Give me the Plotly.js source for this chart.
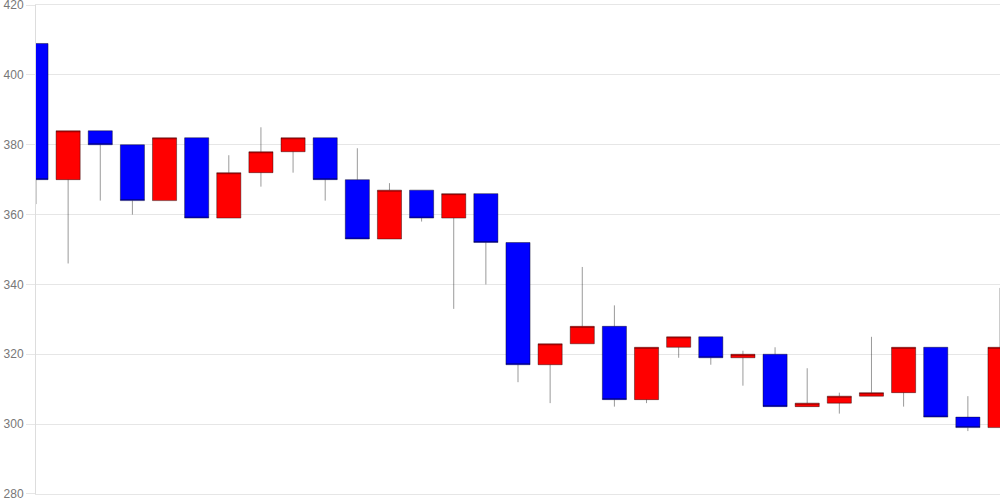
<!DOCTYPE html>
<html>
<head>
<meta charset="utf-8">
<script src="https://cdn.plot.ly/plotly-3.0.1.min.js"></script>
<style>html,body{margin:0;padding:0;background:#fff;}#chart{width:1000px;height:500px;}</style>
</head>
<body>
<div id="chart"></div>
<script>
const days  = [0,1,2,3,4,5,6,7,8,9,10,11,12,13,14,15,16,17,18,19,20,21,22,23,24,25,26,27,28,29,30];
const open  = [409,370,384,380,364,382,359,372,378,382,370,353,367,359,366,352,317,323,328,307,322,325,319,320,305,306,308,309,322,302,299];
const high  = [409,384,384,380,382,382,377,385,382,382,379,369,367,366,366,352,323,345,334,322,325,325,321,322,316,309,325,322,322,308,339];
const low   = [363,346,364,360,364,359,359,368,372,364,353,353,358,333,340,312,306,323,305,306,319,317,311,305,305,303,308,305,302,298,299];
const close = [370,384,380,364,382,359,372,378,382,370,353,367,359,366,352,317,323,328,307,322,325,319,320,305,306,308,309,322,302,299,322];
const yTicks = [280,300,320,340,360,380,400,420];

const trace = {
  type: 'candlestick',
  x: days, open: open, high: high, low: low, close: close,
  increasing: {fillcolor: '#ff0000', line: {color: 'rgba(0,0,0,0.4)', width: 1}},
  decreasing: {fillcolor: '#0000ff', line: {color: 'rgba(0,0,0,0.4)', width: 1}},
  whiskerwidth: 0,
  hoverinfo: 'none'
};

const layout = {
  width: 1000, height: 500,
  margin: {l: 36, r: 0, t: 5, b: 6},
  paper_bgcolor: '#fff', plot_bgcolor: '#fff',
  showlegend: false,
  boxgap: 0.25,
  boxgroupgap: 0,
  xaxis: {
    range: [0, 30], showticklabels: false, showgrid: false, zeroline: false,
    showline: true, mirror: true, linecolor: '#e6e6e6', linewidth: 1,
    ticks: '', rangeslider: {visible: false}, fixedrange: true
  },
  yaxis: {
    range: [279.98, 420.02], tickvals: yTicks, ticktext: yTicks.map(String),
    showgrid: true, gridcolor: '#e6e6e6', gridwidth: 1, zeroline: false,
    showline: true, linecolor: '#dddddd', linewidth: 1,
    ticks: 'outside', ticklen: 9, tickcolor: '#e6e6e6',
    ticklabeloverflow: 'allow',
    tickfont: {family: 'Liberation Sans, Arial, sans-serif', size: 12, color: '#777'},
    fixedrange: true
  }
};

Plotly.newPlot('chart', [trace], layout, {staticPlot: true, displayModeBar: false});
</script>
</body>
</html>
